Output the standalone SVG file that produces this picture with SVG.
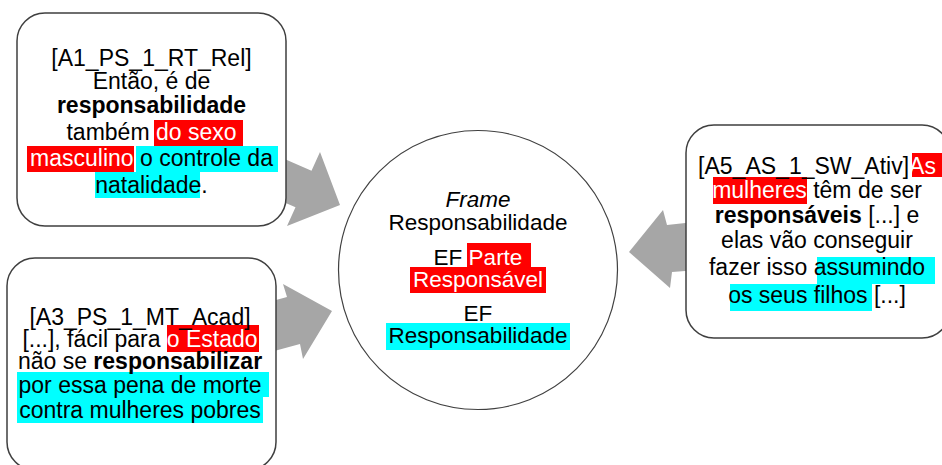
<svg xmlns="http://www.w3.org/2000/svg" width="942" height="465" viewBox="0 0 942 465">
<style>
  .box { fill: #ffffff; stroke: #3f3f3f; stroke-width: 1.5; }
  .circ { fill: #ffffff; stroke: #404040; stroke-width: 1.2; }
  .arrow { fill: #A6A6A6; stroke: none; }
  .t { font-family: "Liberation Sans", Arial, sans-serif; font-size: 23px; fill: #000000; text-anchor: middle; }
  .c { font-size: 22.5px; }
  .b { font-weight: bold; }
  .i { font-style: italic; }
  .w { fill: #ffffff; }
  .red { fill: #FF0000; }
  .cyan { fill: #00FFFF; }
</style>
<g id="connectors">
  <polygon class="arrow" points="256.5,146.7 311.5,170.7 320,152 340,205 287,226 295.5,207.3 240.5,183.3"/>
  <polygon class="arrow" points="238.7,310 287,297 283,284 332,311 303,359 300,344 251.7,357"/>
  <polygon class="arrow" points="722,219 667,225 663,210 629,252 670,288 672,272 725,268"/>
</g>
<g id="node-a1">
  <rect class="box" x="17" y="13" width="269" height="213" rx="28" ry="28"/>
  <rect class="red" x="154" y="120" width="89" height="26"/>
  <rect class="red" x="27" y="146" width="107" height="26"/>
  <rect class="cyan" x="136" y="146" width="142" height="26"/>
  <rect class="cyan" x="95" y="172" width="105" height="26"/>
  <text class="t" x="151.5" y="66">[A1_PS_1_RT_Rel]</text>
  <text class="t" x="151.5" y="89">Então, é de</text>
  <text class="t b" x="151.5" y="113">responsabilidade</text>
  <text class="t" x="151.5" y="140">também <tspan class="w">do sexo</tspan></text>
  <text class="t" x="151.5" y="166"><tspan class="w">masculino</tspan> o controle da</text>
  <text class="t" x="151.5" y="193">natalidade.</text>
</g>
<g id="node-a3">
  <rect class="box" x="7" y="258" width="269" height="212" rx="28" ry="28"/>
  <rect class="red" x="167" y="325" width="92" height="27"/>
  <rect class="cyan" x="17" y="372" width="252" height="25"/>
  <rect class="cyan" x="17" y="397" width="246" height="26"/>
  <text class="t" x="140" y="325">[A3_PS_1_MT_Acad]</text>
  <text class="t" x="140" y="347">[...], fácil para <tspan class="w">o Estado</tspan></text>
  <text class="t" x="140" y="369">não se <tspan class="b">responsabilizar</tspan></text>
  <text class="t" x="140" y="393">por essa pena de morte</text>
  <text class="t" x="140" y="418">contra mulheres pobres</text>
</g>
<g id="node-frame">
  <circle class="circ" cx="478" cy="270" r="139.5"/>
  <rect class="red" x="467" y="243" width="64" height="24"/>
  <rect class="red" x="410" y="267" width="136" height="26"/>
  <rect class="cyan" x="386" y="323" width="184" height="27"/>
  <text class="t c" x="478" y="207"><tspan class="i">Frame</tspan></text>
  <text class="t c" x="478" y="230">Responsabilidade</text>
  <text class="t c" x="478" y="265">EF <tspan class="w">Parte</tspan></text>
  <text class="t c w" x="478" y="287">Responsável</text>
  <text class="t c" x="478" y="321">EF</text>
  <text class="t c" x="478" y="343">Responsabilidade</text>
</g>
<g id="node-a5">
  <rect class="box" x="686" y="125" width="264" height="213" rx="28" ry="28"/>
  <rect class="red" x="912" y="153" width="38" height="24"/>
  <rect class="red" x="713" y="177" width="94" height="27"/>
  <rect class="cyan" x="817" y="257" width="118" height="27"/>
  <rect class="cyan" x="730" y="284" width="142" height="27"/>
  <text class="t" x="817" y="174">[A5_AS_1_SW_Ativ]<tspan class="w">As</tspan></text>
  <text class="t" x="817" y="198"><tspan class="w">mulheres</tspan> têm de ser</text>
  <text class="t" x="817" y="223"><tspan class="b">responsáveis</tspan> [...] e</text>
  <text class="t" x="817" y="248">elas vão conseguir</text>
  <text class="t" x="817" y="275">fazer isso assumindo</text>
  <text class="t" x="817" y="303">os seus filhos [...]</text>
</g>
</svg>
